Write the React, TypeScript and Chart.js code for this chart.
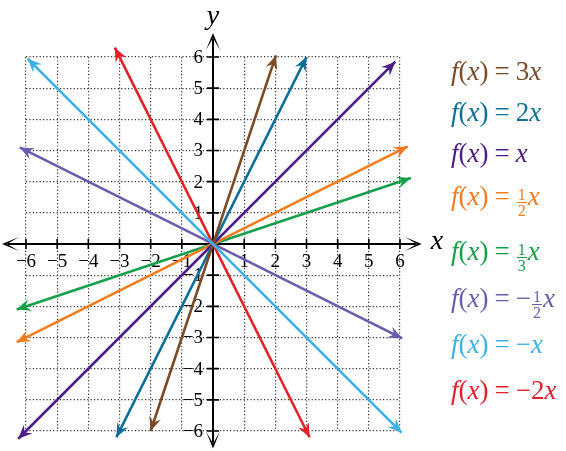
import { useEffect, useRef } from 'react';
import Chart from 'chart.js/auto';

// tick values on both axes
const axisTicks = [-6, -5, -4, -3, -2, -1, 0, 1, 2, 3, 4, 5, 6];

// each line is drawn between two end points
const seriesNames = ['3x', '2x', 'x', '1/2 x', '1/3 x', '-1/2 x', '-x', '-2x'];
const startX = [-2.0, -3.1, -6.25, -6.3, -6.3, -6.2, -5.95, -3.15];
const startY = [-6.0, -6.2, -6.25, -3.15, -2.1, 3.1, 5.95, 6.3];
const endX = [2.02, 3.0, 5.85, 6.25, 6.35, 6.07, 6.05, 3.1];
const endY = [6.05, 6.0, 5.85, 3.13, 2.12, -3.03, -6.05, -6.2];

const lineColors = ['#7b4a26', '#0b6f96', '#4d1c88', '#f47b20', '#17a04a', '#6a5cae', '#3db1e6', '#e3202a'];
const drawOrder = [2, 3, 4, 5, 6, 7, 0, 1];
const legendCenters = [74, 115, 156, 199, 254, 301, 347, 393];

const serif = '"Liberation Serif", "DejaVu Serif", serif';
const minus = '\u2212';

function arrowHead(ctx: CanvasRenderingContext2D, x: number, y: number, ang: number, len: number, half: number, notch: number, color: string) {
  ctx.save();
  ctx.translate(x, y);
  ctx.rotate(ang);
  ctx.beginPath();
  ctx.moveTo(0, 0);
  ctx.lineTo(-len, -half);
  ctx.lineTo(-notch, 0);
  ctx.lineTo(-len, half);
  ctx.closePath();
  ctx.fillStyle = color;
  ctx.fill();
  ctx.restore();
}

const fmt = (v: number) => (v < 0 ? minus + Math.abs(v) : String(v));

const centerAxes = {
  id: 'centerAxes',
  beforeDatasetsDraw(chart: any) {
    const { ctx, scales } = chart;
    const sx = scales.x;
    const sy = scales.y;
    const ox = sx.getPixelForValue(0);
    const oy = sy.getPixelForValue(0);
    const left = sx.getPixelForValue(-6.77);
    const right = sx.getPixelForValue(6.7);
    const top = sy.getPixelForValue(6.77);
    const bottom = sy.getPixelForValue(-6.56);

    ctx.save();
    ctx.strokeStyle = '#000';
    ctx.lineWidth = 2;
    ctx.beginPath();
    ctx.moveTo(left + 6, oy);
    ctx.lineTo(right - 6, oy);
    ctx.moveTo(ox, top + 6);
    ctx.lineTo(ox, bottom - 6);
    ctx.stroke();
    ctx.lineWidth = 1.6;
    ctx.beginPath();
    sx.ticks.forEach((t: any) => {
      if (t.value === 0) return;
      const px = sx.getPixelForValue(t.value);
      ctx.moveTo(px, oy - 5);
      ctx.lineTo(px, oy + 5);
    });
    sy.ticks.forEach((t: any) => {
      if (t.value === 0) return;
      const py = sy.getPixelForValue(t.value);
      ctx.moveTo(ox - 6, py);
      ctx.lineTo(ox + 6, py);
    });
    ctx.stroke();

    arrowHead(ctx, left, oy, Math.PI, 17, 7, 5, '#000');
    arrowHead(ctx, right, oy, 0, 17, 7, 5, '#000');
    arrowHead(ctx, ox, top, -Math.PI / 2, 17, 7, 5, '#000');
    arrowHead(ctx, ox, bottom, Math.PI / 2, 17, 7, 5, '#000');

    ctx.fillStyle = '#000';
    ctx.font = `19px ${serif}`;
    ctx.textBaseline = 'middle';
    ctx.textAlign = 'center';
    sx.ticks.forEach((t: any) => {
      if (t.value === 0) return;
      ctx.fillText(fmt(t.value), sx.getPixelForValue(t.value), oy + 18);
    });
    ctx.textAlign = 'right';
    sy.ticks.forEach((t: any) => {
      if (t.value === 0) return;
      ctx.fillText(fmt(t.value), ox - 10, sy.getPixelForValue(t.value) + 1);
    });

    ctx.font = `italic 28px ${serif}`;
    ctx.textAlign = 'left';
    ctx.fillText('x', right + 9, oy - 2);
    ctx.textAlign = 'center';
    ctx.fillText('y', ox, top - 16);
    ctx.restore();
  },
  afterDatasetsDraw(chart: any) {
    const ctx = chart.ctx;
    chart.data.datasets.forEach((ds: any, i: number) => {
      const pts = chart.getDatasetMeta(i).data;
      if (pts.length < 2) return;
      const a = pts[0];
      const b = pts[pts.length - 1];
      arrowHead(ctx, a.x, a.y, Math.atan2(a.y - b.y, a.x - b.x), 14, 6, 9, ds.borderColor);
      arrowHead(ctx, b.x, b.y, Math.atan2(b.y - a.y, b.x - a.x), 14, 6, 9, ds.borderColor);
    });
  },
};

function Frac({ n, d }: { n: string; d: string }) {
  return (
    <span
      style={{
        display: 'inline-block',
        verticalAlign: '-11px',
        fontSize: 16,
        lineHeight: '15px',
        textAlign: 'center',
        margin: '0 1px',
      }}
    >
      <span style={{ display: 'block', borderBottom: '1px solid currentColor', padding: '0 1px' }}>{n}</span>
      <span style={{ display: 'block' }}>{d}</span>
    </span>
  );
}

const X = () => <i>x</i>;

const legendRhs = [
  <>3<X /></>,
  <>2<X /></>,
  <X />,
  <><Frac n="1" d="2" /><X /></>,
  <><Frac n="1" d="3" /><X /></>,
  <>{minus}<Frac n="1" d="2" /><X /></>,
  <>{minus}<X /></>,
  <>{minus}2<X /></>,
];

export default function App() {
  const canvasRef = useRef<HTMLCanvasElement>(null);
  const chartRef = useRef<Chart | null>(null);

  useEffect(() => {
    if (!canvasRef.current) return;
    const ctx = canvasRef.current.getContext('2d');
    if (!ctx) return;
    if (chartRef.current) chartRef.current.destroy();

    const gridOpts = {
      color: 'rgba(30,30,30,0.9)',
      lineWidth: 1.2,
      drawTicks: false,
    };

    chartRef.current = new Chart(ctx, {
      type: 'scatter',
      data: {
        datasets: seriesNames.map((name, i) => ({
          label: name,
          data: [
            { x: startX[i], y: startY[i] },
            { x: endX[i], y: endY[i] },
          ],
          showLine: true,
          borderColor: lineColors[i],
          backgroundColor: lineColors[i],
          borderWidth: 2.6,
          pointRadius: 0,
          clip: false,
          order: drawOrder[i],
        })),
      },
      options: {
        responsive: true,
        maintainAspectRatio: false,
        animation: false,
        events: [],
        layout: { padding: { left: 26, right: 166, top: 57, bottom: 20 } },
        plugins: { legend: { display: false }, tooltip: { enabled: false } },
        scales: {
          x: {
            type: 'linear',
            min: -6,
            max: 6,
            afterBuildTicks: (s: any) => {
              s.ticks = axisTicks.map((v) => ({ value: v }));
            },
            afterFit: (s: any) => {
              s.height = 0;
            },
            ticks: { display: false },
            grid: gridOpts,
            border: { display: false, dash: [1.2, 2.2] },
          },
          y: {
            type: 'linear',
            min: -6,
            max: 6,
            afterBuildTicks: (s: any) => {
              s.ticks = axisTicks.map((v) => ({ value: v }));
            },
            afterFit: (s: any) => {
              s.width = 0;
            },
            ticks: { display: false },
            grid: gridOpts,
            border: { display: false, dash: [1.2, 2.2] },
          },
        },
      },
      plugins: [centerAxes],
    } as any);

    return () => {
      if (chartRef.current) {
        chartRef.current.destroy();
        chartRef.current = null;
      }
    };
  }, []);

  return (
    <div style={{ position: 'fixed', left: 0, top: 0, width: 566, height: 451, background: '#fff' }}>
      <canvas ref={canvasRef} />
      {legendRhs.map((rhs, i) => (
        <div
          key={seriesNames[i]}
          style={{
            position: 'absolute',
            left: 451,
            top: legendCenters[i] - 20,
            lineHeight: '34px',
            fontFamily: serif,
            fontSize: 27,
            color: lineColors[i],
            whiteSpace: 'nowrap',
          }}
        >
          <i>f</i>(<i>x</i>)<span style={{ margin: '0 6px' }}>=</span>
          {rhs}
        </div>
      ))}
    </div>
  );
}
